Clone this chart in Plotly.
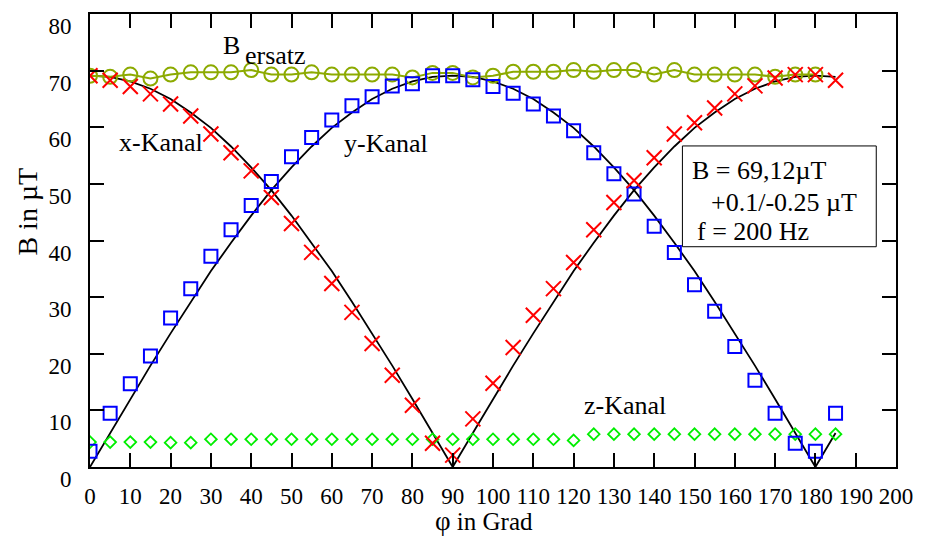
import plotly.graph_objects as go

# Drehwinkel der Sonde (Grad)
phi = [0, 5, 10, 15, 20, 25, 30, 35, 40, 45, 50, 55, 60, 65, 70, 75, 80, 85, 90,
       95, 100, 105, 110, 115, 120, 125, 130, 135, 140, 145, 150, 155, 160, 165,
       170, 175, 180, 185]

# Messwerte x-Kanal (µT)
bx = [69.1, 68.3, 67.2, 65.9, 64.1, 62.0, 58.8, 55.5, 52.3, 47.6, 43.0, 37.9,
      32.4, 27.3, 21.8, 16.2, 10.9, 4.2, 2.1, 8.5, 14.8, 21.1, 26.8, 31.5,
      36.1, 41.9, 46.7, 50.6, 54.6, 58.8, 60.8, 63.4, 65.9, 67.3, 68.7, 69.3,
      69.3, 68.3]

# Messwerte y-Kanal (µT)
by = [2.8, 9.5, 14.7, 19.6, 26.3, 31.5, 37.2, 41.9, 46.2, 50.4, 54.8, 58.2,
      61.3, 63.8, 65.4, 67.3, 67.7, 69.1, 69.1, 68.4, 67.2, 66.0, 64.1, 62.0,
      59.4, 55.5, 51.8, 48.2, 42.5, 37.9, 32.2, 27.5, 21.3, 15.3, 9.5, 4.2,
      2.8, 9.5]

# Messwerte z-Kanal (µT)
bz = [4.4, 4.4, 4.4, 4.4, 4.3, 4.3, 4.9, 4.9, 4.9, 4.9, 4.9, 4.9, 4.9, 4.9,
      4.9, 4.9, 4.9, 4.9, 4.9, 4.9, 4.9, 4.9, 4.9, 4.9, 4.7, 5.8, 5.8, 5.8,
      5.8, 5.8, 5.8, 5.8, 5.8, 5.8, 5.8, 5.8, 5.8, 5.8]

# Ersatzfeld aus den drei Kanälen (µT), 0..180 Grad
phi_ers = phi[:37]
bers = [69.1, 68.9, 69.3, 68.6, 69.3, 69.7, 69.7, 69.7, 70.1, 69.3, 69.3, 69.7,
        69.3, 69.3, 69.3, 69.3, 68.8, 69.6, 69.6, 68.8, 69.1, 69.8, 69.8, 69.8,
        70.1, 69.8, 70.1, 70.1, 69.3, 70.1, 69.3, 69.3, 69.3, 69.3, 68.9, 69.3,
        69.3]

# Sollverlauf der Kanäle (µT)
bx_soll = [69.1, 68.9, 68.1, 66.8, 65.0, 62.6, 59.9, 56.6, 52.9, 48.9, 44.4,
           39.6, 34.6, 29.2, 23.6, 17.9, 12.0, 6.0, 0.0, 6.0, 12.0, 17.9, 23.6,
           29.2, 34.6, 39.6, 44.4, 48.9, 52.9, 56.6, 59.9, 62.6, 65.0, 66.8,
           68.1, 68.9, 69.1, 68.9]
by_soll = [0.0, 6.0, 12.0, 17.9, 23.6, 29.2, 34.6, 39.6, 44.4, 48.9, 52.9, 56.6,
           59.9, 62.6, 65.0, 66.8, 68.1, 68.9, 69.1, 68.9, 68.1, 66.8, 65.0,
           62.6, 59.9, 56.6, 52.9, 48.9, 44.4, 39.6, 34.6, 29.2, 23.6, 17.9,
           12.0, 6.0, 0.0, 6.0]

x_ticks = list(range(0, 201, 10))
y_ticks = list(range(0, 81, 10))

SERIF = "Liberation Serif"
OLIVE = "rgb(140,170,0)"

fig = go.Figure()

fig.add_trace(go.Scatter(x=phi, y=bx_soll, mode="lines",
                         line=dict(color="black", width=1.8)))
fig.add_trace(go.Scatter(x=phi, y=by_soll, mode="lines",
                         line=dict(color="black", width=1.8)))
fig.add_trace(go.Scatter(x=phi_ers, y=bers, mode="lines+markers",
                         line=dict(color=OLIVE, width=2),
                         marker=dict(symbol="circle-open", size=14,
                                     color=OLIVE, line=dict(width=2, color=OLIVE))))
fig.add_trace(go.Scatter(x=phi, y=bz, mode="markers",
                         marker=dict(symbol="diamond-open", size=9,
                                     color="#00ee00", line=dict(width=1.8, color="#00ee00"))))
fig.add_trace(go.Scatter(x=phi, y=by, mode="markers",
                         marker=dict(symbol="square-open", size=13,
                                     color="#0000ff", line=dict(width=2, color="#0000ff"))))
fig.add_trace(go.Scatter(x=phi, y=bx, mode="markers",
                         marker=dict(symbol="x-thin-open", size=15,
                                     color="#ff0000", line=dict(width=2, color="#ff0000"))))

axis_common = dict(
    showgrid=False, zeroline=False, showline=True, linecolor="black",
    linewidth=2, mirror="ticks", ticks="inside", ticklen=14, tickwidth=2,
    tickcolor="black", tickfont=dict(family=SERIF, size=23, color="black"),
)

fig.update_xaxes(range=[0, 200], tickvals=x_ticks,
                 ticktext=[str(v) for v in x_ticks],
                 ticklabelstandoff=7, **axis_common)
fig.update_yaxes(range=[0, 80], tickvals=y_ticks,
                 ticktext=[str(v) for v in y_ticks],
                 ticklabelstandoff=12, ticklabelshift=12, **axis_common)

ann_font = dict(family=SERIF, size=26, color="black")
annotations = [
    dict(x=17.5, y=57.3, text="x-Kanal"),
    dict(x=73.4, y=57.1, text="y-Kanal"),
    dict(x=132.8, y=10.9, text="z-Kanal"),
    dict(x=35.0, y=74.4, text="B"),
    dict(x=46.0, y=72.6, text="ersatz"),
    dict(x=148.8, y=52.3, text="B = 69,12µT", xanchor="left"),
    dict(x=153.6, y=46.7, text="+0.1/-0.25 µT", xanchor="left"),
    dict(x=150.0, y=41.6, text="f = 200 Hz", xanchor="left"),
]
for a in annotations:
    fig.add_annotation(xref="x", yref="y", showarrow=False, font=ann_font,
                       xanchor=a.get("xanchor", "center"), yanchor="middle",
                       x=a["x"], y=a["y"], text=a["text"])

# Achsentitel
fig.add_annotation(xref="paper", yref="paper", x=(487 - 90) / 812, y=0,
                   xanchor="center", yanchor="middle", yshift=-54,
                   showarrow=False, font=dict(family=SERIF, size=25, color="black"),
                   text="<span style='font-size:27px'>φ</span> in Grad")
fig.add_annotation(xref="paper", yref="paper", x=0, y=(467 - 211) / 454,
                   xanchor="center", yanchor="middle", xshift=-62,
                   showarrow=False, font=dict(family=SERIF, size=28, color="black"),
                   textangle=-90, text="B in µT")

# Rahmen um die Messparameter
fig.add_shape(type="rect", xref="x", yref="y", x0=147.0, x1=195.1,
              y0=38.9, y1=56.7, line=dict(color="black", width=1),
              fillcolor="rgba(0,0,0,0)")

fig.update_layout(
    width=925, height=539, showlegend=False,
    margin=dict(l=90, r=23, t=13, b=72),
    plot_bgcolor="white", paper_bgcolor="white",
    font=dict(family=SERIF, color="black"),
)

fig.write_html("out.html")
